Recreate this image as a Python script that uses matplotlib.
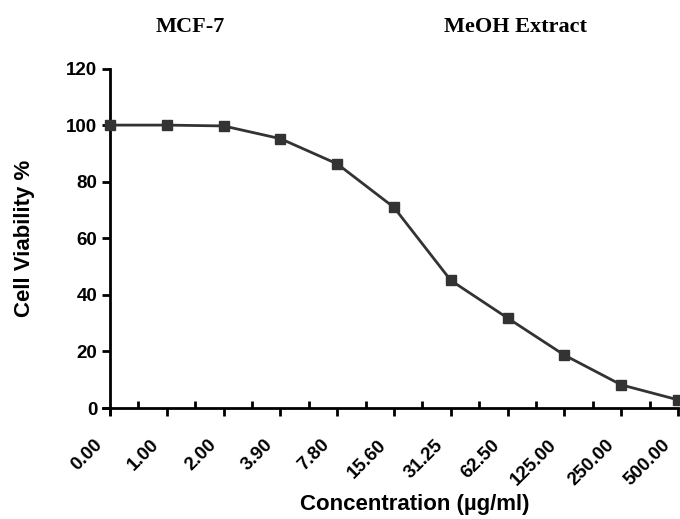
import matplotlib.pyplot as plt
import matplotlib.transforms as mtransforms
import numpy as np

# 데이터
conc_labels = ['0.00', '1.00', '2.00', '3.90', '7.80', '15.60', '31.25',
               '62.50', '125.00', '250.00', '500.00']
viability = [100.0, 100.0, 99.7, 95.2, 86.3, 70.9, 45.1, 31.8, 18.7, 8.2, 2.9]

x = np.arange(len(conc_labels))

fig = plt.figure(figsize=(6.8, 5.19), dpi=100)
ax = fig.add_axes([0.1509, 0.2029, 0.8462, 0.6651])

ax.plot(x, viability, color='#333333', linewidth=2.0, marker='s',
        markersize=7, clip_on=False, zorder=3)

ax.set_xlim(-0.13, 10)
ax.set_ylim(-2, 120)
ax.spines['bottom'].set_position(('data', 0))
ax.spines['left'].set_position(('data', 0))
ax.spines['top'].set_visible(False)
ax.spines['right'].set_visible(False)
for s in ['bottom', 'left']:
    ax.spines[s].set_linewidth(2.0)

ax.set_yticks([0, 20, 40, 60, 80, 100, 120])
ax.set_xticks(x)
ax.set_xticks(x[:-1] + 0.5, minor=True)
ax.set_xticklabels(conc_labels, rotation=45, ha='right', va='top',
                   rotation_mode='anchor')

ax.tick_params(axis='y', direction='out', length=6, width=2.0, labelsize=13.5, pad=3)
ax.tick_params(axis='x', which='major', direction='out', length=6, width=2.0,
               labelsize=13.5, pad=8)
ax.tick_params(axis='x', which='minor', direction='in', length=5, width=2.0)

# 눈금 글자를 왼쪽 아래로 조금 이동
offset = mtransforms.ScaledTranslation(-16 / 100, -9 / 100, fig.dpi_scale_trans)
for lab in ax.get_xticklabels():
    lab.set_transform(lab.get_transform() + offset)
for lab in ax.get_xticklabels() + ax.get_yticklabels():
    lab.set_fontweight('bold')
    lab.set_family('Liberation Sans')

ax.set_xlabel('Concentration (µg/ml)', fontsize=16, fontweight='bold',
              family='Liberation Sans')
ax.set_ylabel('Cell Viability %', fontsize=16, fontweight='bold',
              family='Liberation Sans')
ax.xaxis.set_label_coords((415 - 102.6) / 575.4, -(505 - 413.7) / 345.2)
ax.yaxis.set_label_coords(-(102.6 - 24) / 575.4, (413.7 - 238) / 345.2)
ax.xaxis.label.set_va('center')
ax.yaxis.label.set_va('center')

fig.text(190 / 680, 1 - 27 / 519, 'MCF-7', fontsize=16, fontweight='bold',
         family='Liberation Serif', ha='center', va='center')
fig.text(516 / 680, 1 - 27 / 519, 'MeOH Extract', fontsize=16, fontweight='bold',
         family='Liberation Serif', ha='center', va='center')

fig.savefig('out.png', dpi=100)
